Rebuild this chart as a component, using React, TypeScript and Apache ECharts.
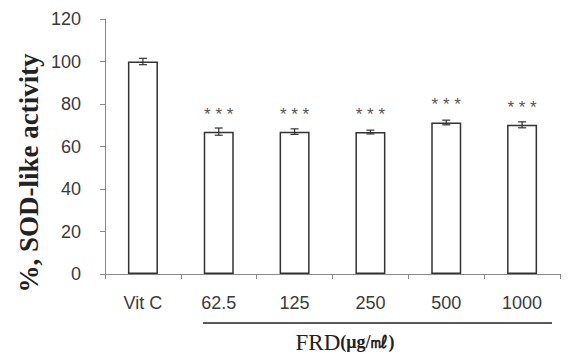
import React, { useEffect, useRef } from "react";
import * as echarts from "echarts";

const categories = ["Vit C", "62.5", "125", "250", "500", "1000"];
const values = [100, 67, 67, 66.8, 71.3, 70.2];
const errors = [1.5, 1.7, 1.3, 0.9, 1.1, 1.4];
const marks = ["", "***", "***", "***", "***", "***"];
const yTicks = { min: 0, max: 120, interval: 20 };
const yTitle = "%, SOD-like activity";

export default function App() {
  const ref = useRef<HTMLDivElement>(null);
  useEffect(() => {
    document.body.style.margin = "0";
    const chart = echarts.init(ref.current!, null, { renderer: "svg" });
    const axisColor = "#888";
    const textColor = "#3a3a3a";
    chart.setOption({
      animation: false,
      backgroundColor: "#fff",
      grid: { left: 105, right: 9, top: 19, bottom: 80 },
      xAxis: {
        type: "category",
        data: categories,
        axisLine: { show: true, lineStyle: { color: axisColor, width: 1 } },
        axisTick: { show: true, length: 5, lineStyle: { color: axisColor } },
        axisLabel: { color: textColor, fontSize: 18, fontFamily: "Liberation Sans", margin: 20 },
      },
      yAxis: {
        type: "value",
        min: yTicks.min,
        max: yTicks.max,
        interval: yTicks.interval,
        splitLine: { show: false },
        axisLine: { show: true, lineStyle: { color: axisColor, width: 1 } },
        axisTick: { show: true, length: 5, lineStyle: { color: axisColor } },
        axisLabel: { color: textColor, fontSize: 18, fontFamily: "Liberation Sans", margin: 24 },
      },
      series: [
        {
          type: "bar",
          data: values.map((v, i) => ({
            value: v,
            label: {
              show: marks[i] !== "",
              position: "top",
              distance: 9,
              formatter: marks[i] ? marks[i].split("").join(" ") : "",
              color: "#555",
              fontSize: 17,
              fontFamily: "Liberation Sans",
            },
          })),
          barWidth: 30,
          itemStyle: { color: "#fff", borderColor: "#333", borderWidth: 1.5 },
          z: 2,
        },
        {
          type: "custom",
          z: 3,
          data: values.map((v, i) => [i, v, errors[i]]),
          renderItem: (params: any, api: any) => {
            const x = api.value(0);
            const v = api.value(1);
            const e = api.value(2);
            const top = api.coord([x, v + e]);
            const bot = api.coord([x, v - e]);
            const hw = 4;
            const style = { stroke: "#333", lineWidth: 1.2 };
            return {
              type: "group",
              children: [
                { type: "line", shape: { x1: top[0], y1: top[1], x2: bot[0], y2: bot[1] }, style },
                { type: "line", shape: { x1: top[0] - hw, y1: top[1], x2: top[0] + hw, y2: top[1] }, style },
                { type: "line", shape: { x1: bot[0] - hw, y1: bot[1], x2: bot[0] + hw, y2: bot[1] }, style },
              ],
            };
          },
        },
      ],
      graphic: [
        {
          type: "text",
          x: 29,
          y: 173,
          rotation: Math.PI / 2,
          style: {
            text: yTitle,
            align: "center",
            verticalAlign: "middle",
            fontFamily: "Liberation Serif",
            fontWeight: "bold",
            fontSize: 27,
            fill: "#222",
          },
        },
        {
          type: "line",
          shape: { x1: 203, y1: 323, x2: 552, y2: 323 },
          style: { stroke: "#222", lineWidth: 1.5 },
        },
        {
          type: "text",
          x: 345,
          y: 342,
          style: {
            text: "{a|FRD}{b|(μg/㎖)}",
            align: "center",
            verticalAlign: "middle",
            rich: {
              a: { fontFamily: "Liberation Serif", fontSize: 23, fill: "#222", color: "#222" },
              b: { fontFamily: "Liberation Serif", fontWeight: "bold", fontSize: 18, fill: "#222", color: "#222" },
            },
          },
        },
      ],
    });
    return () => chart.dispose();
  }, []);
  return <div ref={ref} style={{ width: 569, height: 354 }} />;
}
